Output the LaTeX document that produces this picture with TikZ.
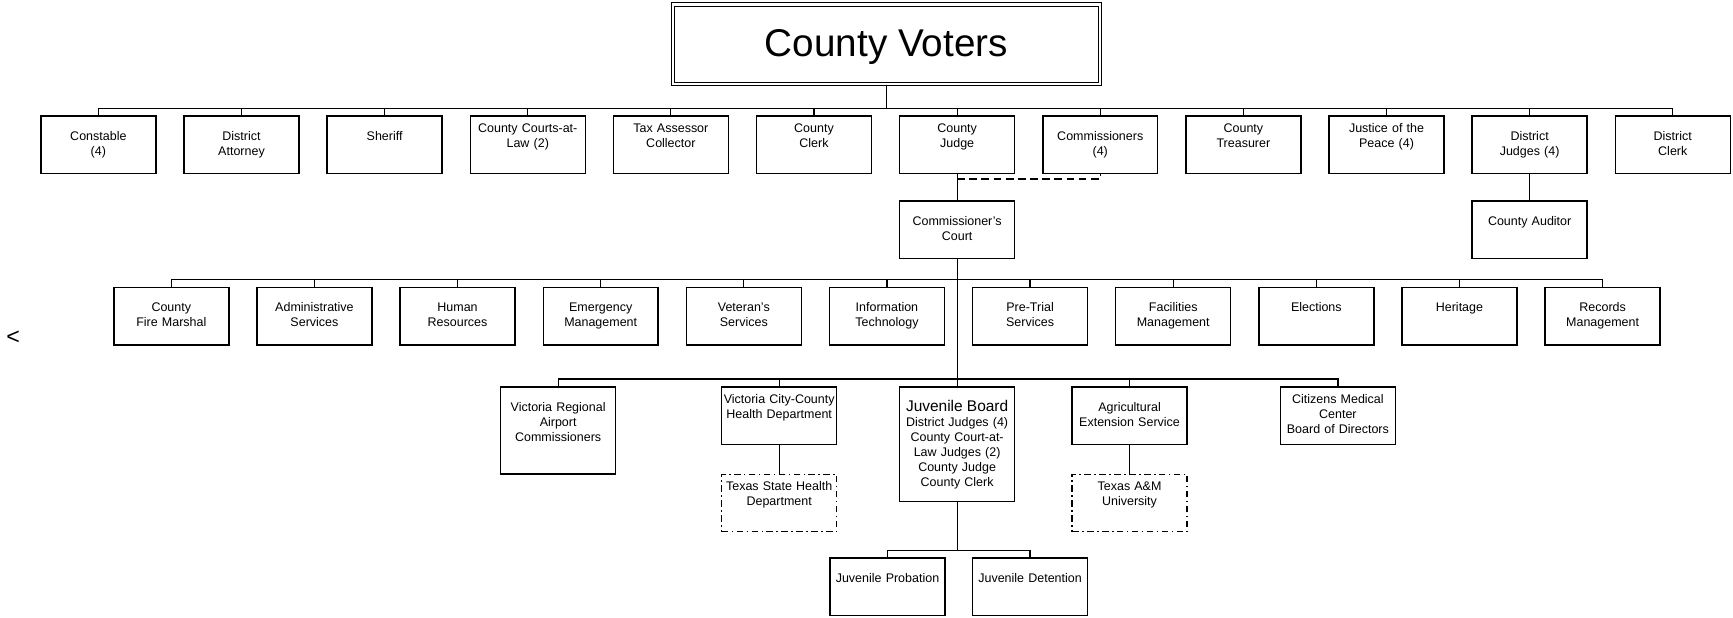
\documentclass[tikz,border=0pt]{standalone}
\usepackage{fontspec}
\setmainfont{Liberation Sans}
\tikzset{
  unit/.style={draw, line width=1.3pt, inner sep=0pt, align=center,
    text width=100pt, minimum width=104pt,
    text height=15pt, text depth=37pt,
    font=\fontsize{11.3}{13.6}\selectfont},
  low/.style={text height=22pt, text depth=30pt},
  outside/.style={unit, line width=1.1pt, dash pattern=on 6pt off 3pt on 1.5pt off 3pt},
  elbow/.style={to path={-| (\tikztotarget)}},
}
\begin{document}
\begin{tikzpicture}[x=1pt,y=-1pt,line width=1.1pt]
\useasboundingbox (0,0) rectangle (1568,559);
\node[draw,double,double distance=2pt,line width=1pt,minimum width=386pt,minimum height=72pt,text height=26pt,text depth=4pt,font=\fontsize{35}{40}\selectfont] (voters) at (802,40) {County Voters};
\node[font=\fontsize{21}{21}\selectfont] (mark) at (12,306) {<};
% elected offices
\node[unit,low] (const) at (89,131) {Constable\\(4)};
\node[unit,low] (da) at (218.5,131) {District\\Attorney};
\node[unit,low] (sheriff) at (348,131) {Sheriff};
\node[unit] (ccl) at (477.5,131) {County Courts-at-\\Law (2)};
\node[unit] (tax) at (607,131) {Tax Assessor\\Collector};
\node[unit] (cclerk) at (736.5,131) {County\\Clerk};
\node[unit] (cjudge) at (866,131) {County\\Judge};
\node[unit,low] (comm) at (995.5,131) {Commissioners\\(4)};
\node[unit] (treas) at (1125,131) {County\\Treasurer};
\node[unit] (jp) at (1254.5,131) {Justice of the\\Peace (4)};
\node[unit,low] (djudges) at (1384,131) {District\\Judges (4)};
\node[unit,low] (dclerk) at (1513.5,131) {District\\Clerk};
\node[unit,low] (court) at (866,208) {Commissioner's\\Court};
\node[unit,low] (auditor) at (1384,208) {County Auditor};
% departments
\node[unit,low] (fire) at (155,286) {County\\Fire Marshal};
\node[unit,low] (admin) at (284.5,286) {Administrative\\Services};
\node[unit,low] (hr) at (414,286) {Human\\Resources};
\node[unit,low] (emerg) at (543.5,286) {Emergency\\Management};
\node[unit,low] (vet) at (673,286) {Veteran's\\Services};
\node[unit,low] (it) at (802.5,286) {Information\\Technology};
\node[unit,low] (pretrial) at (932,286) {Pre-Trial\\Services};
\node[unit,low] (facil) at (1061.5,286) {Facilities\\Management};
\node[unit,low] (elect) at (1191,286) {Elections};
\node[unit,low] (herit) at (1320.5,286) {Heritage};
\node[unit,low] (records) at (1450,286) {Records\\Management};
% boards
\node[unit,low,text depth=57pt] (airport) at (505,389.5) {Victoria Regional\\Airport\\Commissioners};
\node[unit,text width=104pt] (health) at (705,376) {Victoria City-County\\Health Department};
\node[unit,low,text depth=82pt] (jboard) at (866,402) {{\fontsize{14}{15}\selectfont Juvenile Board}\\District Judges (4)\\County Court-at-\\Law Judges (2)\\County Judge\\County Clerk};
\node[unit,low] (agri) at (1022,376) {Agricultural\\Extension Service};
\node[unit] (cmc) at (1210.5,376) {Citizens Medical\\Center\\Board of Directors};
\node[outside] (txhealth) at (705,455) {Texas State Health\\Department};
\node[outside] (tamu) at (1022,455) {Texas A\&M\\University};
\node[unit,low] (jprob) at (803,531) {Juvenile Probation};
\node[unit,low] (jdet) at (932,531) {Juvenile Detention};
\coordinate (bus1) at (802,98);
\coordinate (bus2) at (866,253);
\coordinate (bus3) at (866,343);
\coordinate (bus4) at (866,498);
\coordinate (jn) at (866,162);
\path
  (voters) edge (bus1)
  (bus1) edge[elbow] (const.north)
  (bus1) edge[elbow] (da.north)
  (bus1) edge[elbow] (sheriff.north)
  (bus1) edge[elbow] (ccl.north)
  (bus1) edge[elbow] (tax.north)
  (bus1) edge[elbow] (cclerk.north)
  (bus1) edge[elbow] (cjudge.north)
  (bus1) edge[elbow] (comm.north)
  (bus1) edge[elbow] (treas.north)
  (bus1) edge[elbow] (jp.north)
  (bus1) edge[elbow] (djudges.north)
  (bus1) edge[elbow] (dclerk.north)
  (cjudge) edge (court)
  (djudges) edge (auditor)
  (court) edge (bus2)
  (bus2) edge[elbow] (fire.north)
  (bus2) edge[elbow] (admin.north)
  (bus2) edge[elbow] (hr.north)
  (bus2) edge[elbow] (emerg.north)
  (bus2) edge[elbow] (vet.north)
  (bus2) edge[elbow] (it.north)
  (bus2) edge[elbow] (pretrial.north)
  (bus2) edge[elbow] (facil.north)
  (bus2) edge[elbow] (elect.north)
  (bus2) edge[elbow] (herit.north)
  (bus2) edge[elbow] (records.north)
  (bus2) edge (bus3)
  (bus3) edge[elbow] (airport.north)
  (bus3) edge[elbow] (health.north)
  (bus3) edge (jboard)
  (bus3) edge[elbow] (agri.north)
  (bus3) edge[elbow] (cmc.north)
  (health) edge (txhealth)
  (agri) edge (tamu)
  (jboard) edge (bus4)
  (bus4) edge[elbow] (jprob.north)
  (bus4) edge[elbow] (jdet.north)
;
\draw[dash pattern=on 7pt off 4pt] (jn) -| (comm.south);
\end{tikzpicture}
\end{document}
